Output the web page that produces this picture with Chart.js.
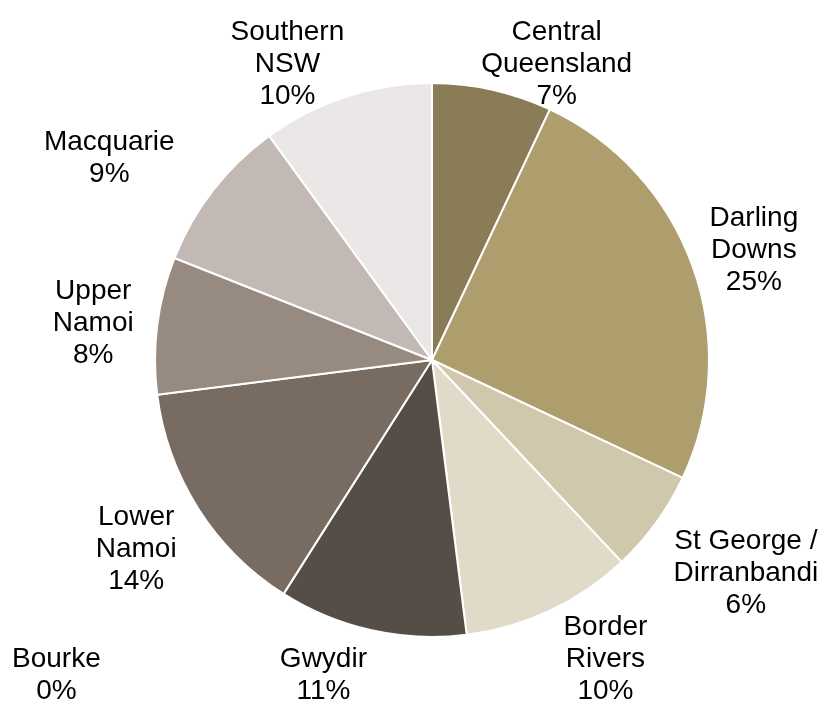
<!DOCTYPE html>
<html>
<head>
<meta charset="utf-8">
<script src="https://cdn.jsdelivr.net/npm/chart.js@4/dist/chart.umd.min.js"></script>
<style>
  html, body { margin: 0; padding: 0; background: #ffffff; }
  #wrap { width: 824px; height: 706px; position: relative; }
</style>
</head>
<body>
<div id="wrap"><canvas id="c" width="824" height="706"></canvas></div>
<script>
// Cotton-growing regions and their share of the total
const regions = [
  ['Central', 'Queensland'],
  ['Darling', 'Downs'],
  ['St George /', 'Dirranbandi'],
  ['Border', 'Rivers'],
  ['Gwydir'],
  ['Bourke'],
  ['Lower', 'Namoi'],
  ['Upper', 'Namoi'],
  ['Macquarie'],
  ['Southern', 'NSW']
];
const shares = [7, 25, 6, 10, 11, 0, 14, 8, 9, 10];

const sliceColors = [
  '#8a7c57', '#ae9e6e', '#d0c8ac', '#e0dbc8', '#554e47',
  '#6b6058', '#786b62', '#978a80', '#c2b9b4', '#ebe7e6'
];

// Label anchor points, in units of the pie radius, relative to the pie centre
const labelSpots = [
  [0.45, -1.068], [1.162, -0.396], [1.133, 0.770], [0.626, 1.079],
  [-0.392, 1.137], [-1.356, 1.140], [-1.068, 0.683], [-1.223, -0.133],
  [-1.165, -0.727], [-0.522, -1.068]
];

const sliceLabels = {
  id: 'sliceLabels',
  afterDatasetsDraw(chart) {
    const ctx = chart.ctx;
    const arc = chart.getDatasetMeta(0).data[0];
    const cx = arc.x, cy = arc.y, r = arc.outerRadius;
    ctx.save();
    ctx.font = '28px "Liberation Sans", Arial, sans-serif';
    ctx.fillStyle = '#000000';
    ctx.textAlign = 'center';
    ctx.textBaseline = 'middle';
    const lineH = 32;
    regions.forEach((name, i) => {
      const lines = name.concat([shares[i] + '%']);
      const x = cx + labelSpots[i][0] * r;
      const y0 = cy + labelSpots[i][1] * r - (lines.length - 1) * lineH / 2;
      lines.forEach((t, k) => ctx.fillText(t, x, y0 + k * lineH));
    });
    ctx.restore();
  }
};

new Chart(document.getElementById('c'), {
  type: 'pie',
  data: {
    labels: regions.map(r => r.join(' ')),
    datasets: [{
      data: shares,
      backgroundColor: sliceColors,
      borderColor: '#ffffff',
      borderWidth: 2
    }]
  },
  options: {
    responsive: false,
    animation: false,
    layout: { padding: { left: 154, right: 114, top: 82, bottom: 68 } },
    plugins: {
      legend: { display: false },
      tooltip: { enabled: false }
    }
  },
  plugins: [sliceLabels]
});
</script>
</body>
</html>
